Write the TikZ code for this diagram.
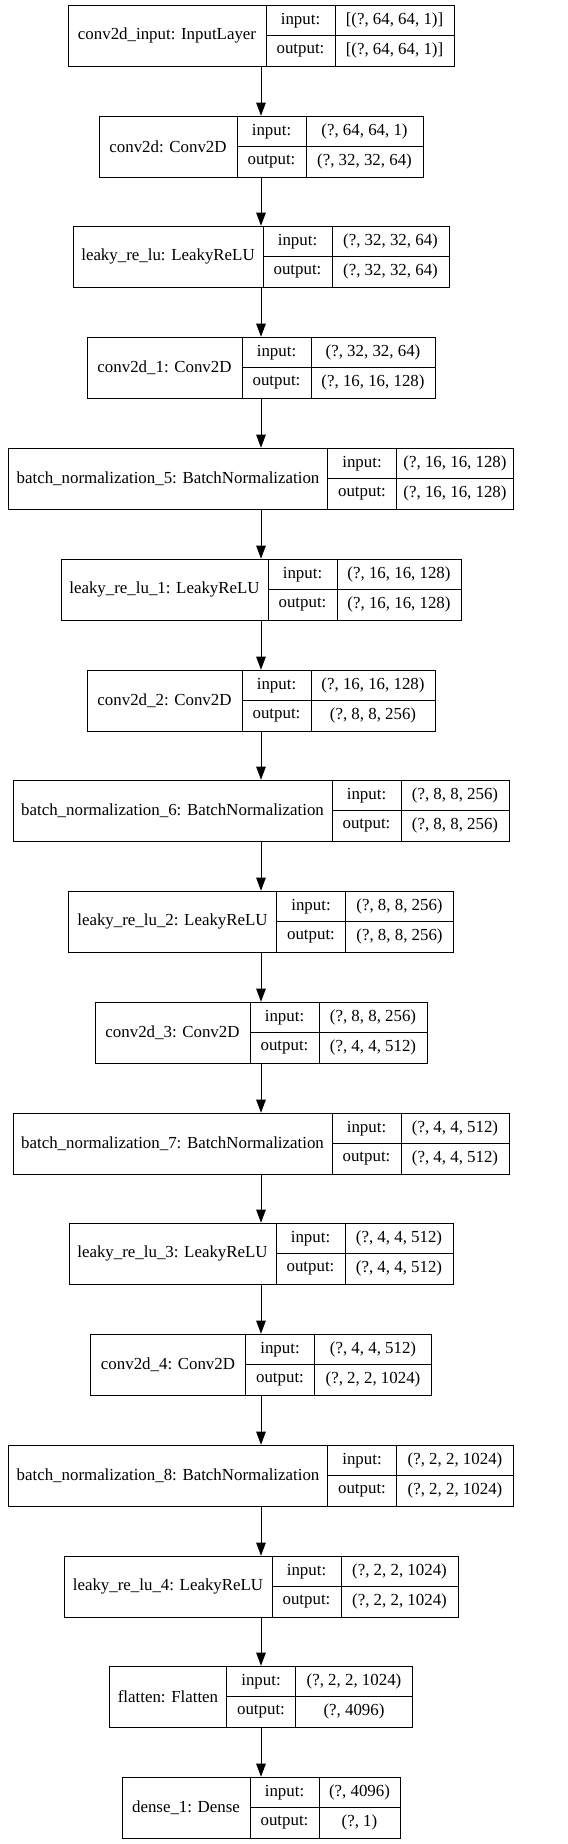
\documentclass[tikz,border=0pt]{standalone}
\usepackage{fontspec}
\setmainfont{Liberation Serif}
\usepackage{tikz}
\usetikzlibrary{arrows.meta}
\usetikzlibrary{positioning,fit}

\tikzset{
  lbox/.style={draw, rectangle, line width=0.7pt, outer sep=0pt, inner sep=1pt, minimum height=61*0.025cm},
  pcell/.style={lbox, minimum height=30.5*0.025cm},
  flow/.style={-{Triangle[length=0.33cm,width=0.24cm]}, line width=0.7pt},
}

% layer record: name, top, label width, value width, label, input, output
\newcommand{\layer}[7]{
  \node[lbox, minimum width=#3*0.025cm] (#1) at ({261-(69+#4)/2}, {#2+30.5}) {#5};
  \node[pcell, minimum width=69*0.025cm, anchor=north west] (#1-ik) at (#1.north east) {input:};
  \node[pcell, minimum width=69*0.025cm, anchor=north west] (#1-ok) at (#1-ik.south west) {output:};
  \node[pcell, minimum width=#4*0.025cm, anchor=north west] (#1-iv) at (#1-ik.north east) {#6};
  \node[pcell, minimum width=#4*0.025cm, anchor=north west] (#1-ov) at (#1-ok.north east) {#7};
  \node[fit=(#1)(#1-ov), inner sep=0pt] (#1-box) {};
}

\begin{document}
\begin{tikzpicture}[x=0.025cm, y=-0.025cm, font=\fontsize{12}{14}\selectfont]
  \useasboundingbox (0,0) rectangle (567,1844);
  \layer{In}{5}{198}{119}{conv2d\_input: InputLayer}{[(?, 64, 64, 1)]}{[(?, 64, 64, 1)]}
  \layer{C2D}{116}{138}{117}{conv2d: Conv2D}{(?, 64, 64, 1)}{(?, 32, 32, 64)}
  \draw[flow] (In-box) -- (C2D-box);
  \layer{LR}{226}{190}{117}{leaky\_re\_lu: LeakyReLU}{(?, 32, 32, 64)}{(?, 32, 32, 64)}
  \draw[flow] (C2D-box) -- (LR-box);
  \layer{C2Da}{337}{155}{124}{conv2d\_1: Conv2D}{(?, 32, 32, 64)}{(?, 16, 16, 128)}
  \draw[flow] (LR-box) -- (C2Da-box);
  \layer{BN5}{448}{319}{117}{batch\_normalization\_5: BatchNormalization}{(?, 16, 16, 128)}{(?, 16, 16, 128)}
  \draw[flow] (C2Da-box) -- (BN5-box);
  \layer{LRa}{559}{207}{124}{leaky\_re\_lu\_1: LeakyReLU}{(?, 16, 16, 128)}{(?, 16, 16, 128)}
  \draw[flow] (BN5-box) -- (LRa-box);
  \layer{C2Db}{670}{155}{124}{conv2d\_2: Conv2D}{(?, 16, 16, 128)}{(?, 8, 8, 256)}
  \draw[flow] (LRa-box) -- (C2Db-box);
  \layer{BN6}{780}{319}{108}{batch\_normalization\_6: BatchNormalization}{(?, 8, 8, 256)}{(?, 8, 8, 256)}
  \draw[flow] (C2Db-box) -- (BN6-box);
  \layer{LRb}{891}{208}{108}{leaky\_re\_lu\_2: LeakyReLU}{(?, 8, 8, 256)}{(?, 8, 8, 256)}
  \draw[flow] (BN6-box) -- (LRb-box);
  \layer{C2Dc}{1002}{155}{108}{conv2d\_3: Conv2D}{(?, 8, 8, 256)}{(?, 4, 4, 512)}
  \draw[flow] (LRb-box) -- (C2Dc-box);
  \layer{BN7}{1113}{319}{108}{batch\_normalization\_7: BatchNormalization}{(?, 4, 4, 512)}{(?, 4, 4, 512)}
  \draw[flow] (C2Dc-box) -- (BN7-box);
  \layer{LRc}{1223}{207}{108}{leaky\_re\_lu\_3: LeakyReLU}{(?, 4, 4, 512)}{(?, 4, 4, 512)}
  \draw[flow] (BN7-box) -- (LRc-box);
  \layer{C2Dd}{1334}{155}{117}{conv2d\_4: Conv2D}{(?, 4, 4, 512)}{(?, 2, 2, 1024)}
  \draw[flow] (LRc-box) -- (C2Dd-box);
  \layer{BN8}{1445}{319}{117}{batch\_normalization\_8: BatchNormalization}{(?, 2, 2, 1024)}{(?, 2, 2, 1024)}
  \draw[flow] (C2Dd-box) -- (BN8-box);
  \layer{LRd}{1556}{208}{117}{leaky\_re\_lu\_4: LeakyReLU}{(?, 2, 2, 1024)}{(?, 2, 2, 1024)}
  \draw[flow] (BN8-box) -- (LRd-box);
  \layer{Fl}{1666}{117}{117}{flatten: Flatten}{(?, 2, 2, 1024)}{(?, 4096)}
  \draw[flow] (LRd-box) -- (Fl-box);
  \layer{Dn}{1777}{128}{81}{dense\_1: Dense}{(?, 4096)}{(?, 1)}
  \draw[flow] (Fl-box) -- (Dn-box);
\end{tikzpicture}
\end{document}
